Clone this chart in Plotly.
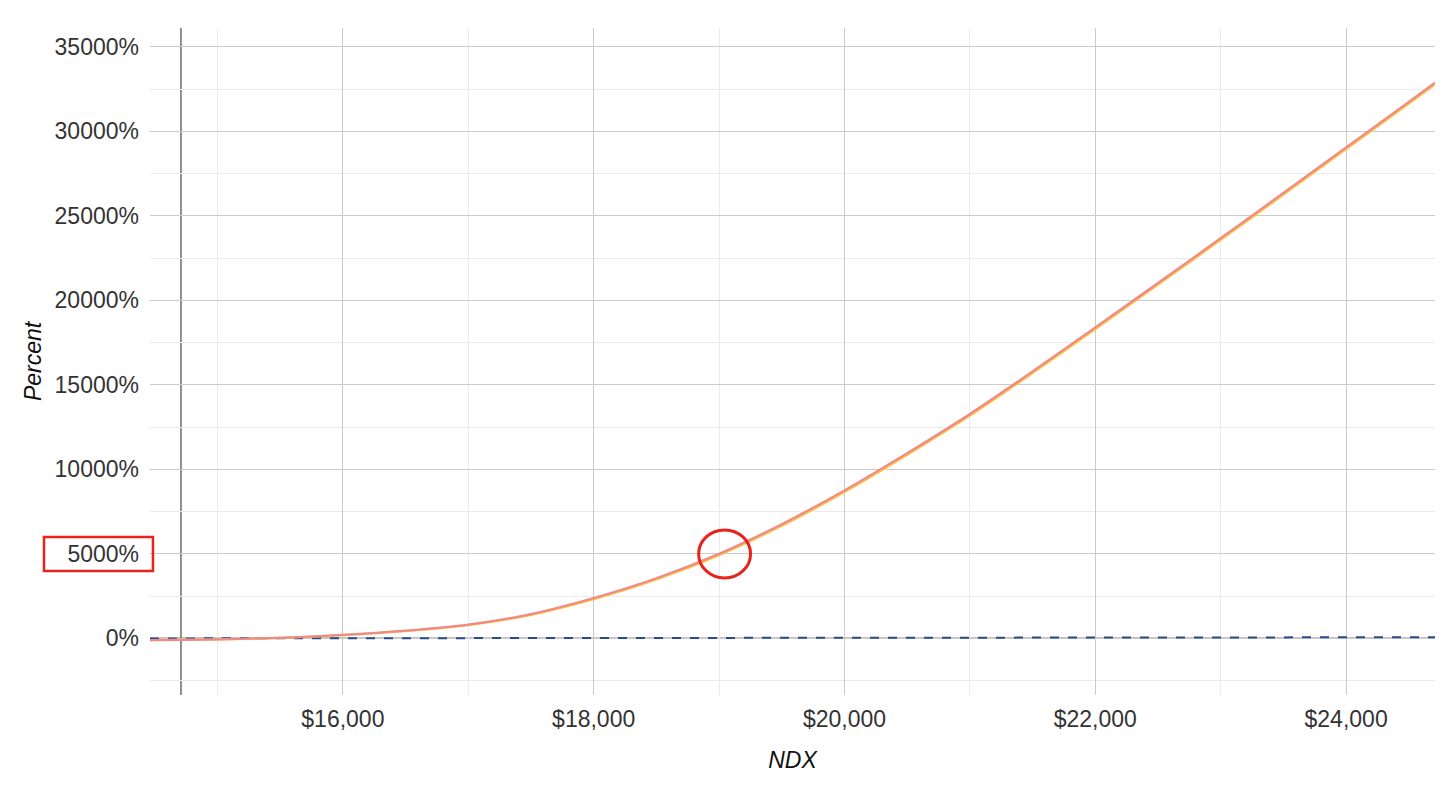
import plotly.graph_objects as go

# ---- data ----
ndx = [14462, 15000, 15500, 16000, 16500, 17000, 17500, 18000, 18500, 19000, 19500,
       20000, 20500, 21000, 21500, 22000, 22500, 23000, 23500, 24000, 24500, 24709]
ret_orange = [-100, -65, 30, 190, 430, 780, 1390, 2320, 3480, 4920, 6660,
              8660, 10860, 13180, 15700, 18300, 20930, 23580, 26260, 28950, 31650, 32780]
ret_pink = [-100, -62, 36, 205, 455, 815, 1440, 2390, 3560, 5010, 6760,
            8760, 10960, 13280, 15800, 18400, 21030, 23680, 26360, 29050, 31750, 32880]
ndx_pct = [-2, 2, 5, 9, 12, 16, 19, 22, 26, 29, 33,
           36, 39, 43, 46, 50, 53, 56, 60, 63, 67, 68]
current_ndx = 14709

x_ticks = [16000, 18000, 20000, 22000, 24000]
x_labels = ["$16,000", "$18,000", "$20,000", "$22,000", "$24,000"]
y_ticks = [0, 5000, 10000, 15000, 20000, 25000, 30000, 35000]
y_labels = ["0%", "5000%", "10000%", "15000%", "20000%", "25000%", "30000%", "35000%"]

x_range = [14462, 24709]
y_range = [-3350, 36120]

FONT = "Liberation Sans, Arial, Helvetica, sans-serif"

fig = go.Figure()

# zero line and current price line
fig.add_hline(y=0, line=dict(color="#111111", width=1.2), layer="below")
fig.add_vline(x=current_ndx, line=dict(color="#555555", width=1.3), layer="below")

fig.add_trace(go.Scatter(x=ndx, y=ndx_pct, mode="lines",
                         line=dict(color="#2B4A8C", width=2, dash="dash"),
                         showlegend=False, hoverinfo="skip"))
fig.add_trace(go.Scatter(x=ndx, y=ret_orange, mode="lines", line_shape="spline",
                         line=dict(color="#FFBF3C", width=2.2, smoothing=0.8),
                         showlegend=False))
fig.add_trace(go.Scatter(x=ndx, y=ret_pink, mode="lines", line_shape="spline",
                         line=dict(color="#EE8A8A", width=2.2, smoothing=0.8),
                         showlegend=False))

# red highlight annotations
fig.add_shape(type="circle", xref="x", yref="y",
              x0=18837, x1=19251, y0=3580, y1=6420,
              line=dict(color="#E8231B", width=3))
fig.add_shape(type="rect", xref="paper", yref="paper",
              x0=-0.0825, x1=0.0023, y0=0.1859, y1=0.2369,
              line=dict(color="#E8231B", width=2.5))

fig.update_layout(
    width=1456, height=786,
    margin=dict(l=142, r=29, t=20, b=99),
    paper_bgcolor="white", plot_bgcolor="white",
    font=dict(family=FONT, size=23, color="#333333"),
    showlegend=False,
)

fig.update_xaxes(
    range=x_range,
    tickvals=x_ticks, ticktext=x_labels,
    showgrid=True, gridcolor="#CBCBCB", gridwidth=1,
    minor=dict(dtick=1000, tick0=15000, showgrid=True, gridcolor="#EBEBEB", gridwidth=1),
    zeroline=False, showline=False, ticks="",
    ticklabelstandoff=8,
    tickfont=dict(family=FONT, size=23, color="#333333"),
    title=dict(text="<i>NDX</i>", font=dict(family=FONT, size=23, color="#111111"), standoff=20),
)
fig.update_yaxes(
    range=y_range,
    tickvals=y_ticks, ticktext=y_labels,
    showgrid=True, gridcolor="#CBCBCB", gridwidth=1,
    minor=dict(dtick=2500, tick0=-2500, showgrid=True, gridcolor="#EBEBEB", gridwidth=1),
    zeroline=False, showline=False, ticks="",
    ticklabelstandoff=10,
    tickfont=dict(family=FONT, size=23, color="#333333"),
    title=dict(text="<i>Percent</i>", font=dict(family=FONT, size=23, color="#111111"), standoff=6),
)

fig.write_html("out.html")
